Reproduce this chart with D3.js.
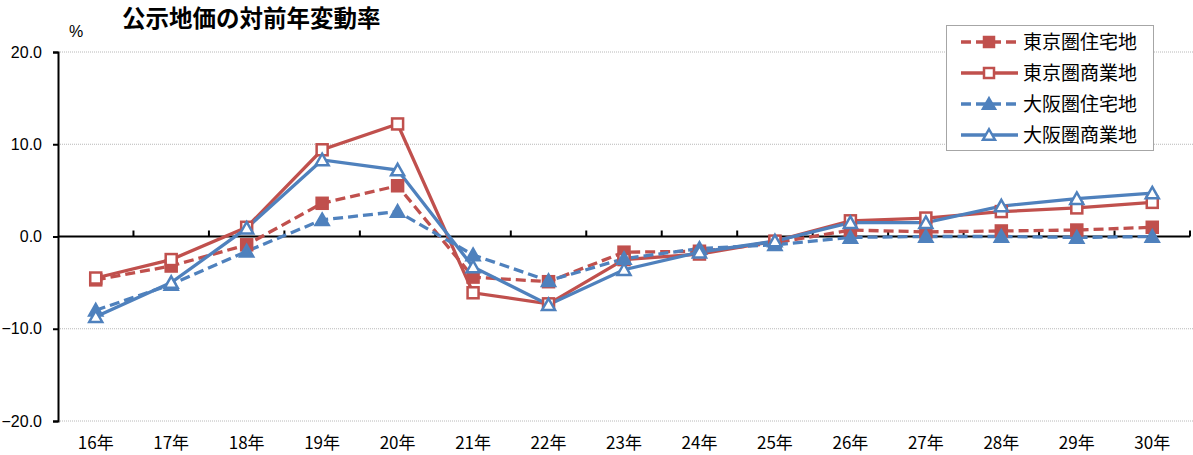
<!DOCTYPE html>
<html>
<head>
<meta charset="utf-8">
<script src="https://cdn.jsdelivr.net/npm/d3@7"></script>
<style>
  body { margin: 0; background: #fff; }
  svg { font-family: "Noto Sans CJK JP", "Noto Sans", sans-serif; }
</style>
</head>
<body>
<svg width="1193" height="455"></svg>
<script>
// categories and series (%)
var years = ["16年","17年","18年","19年","20年","21年","22年","23年","24年","25年","26年","27年","28年","29年","30年"];
var tokyoRes  = [-4.7, -3.2, -0.9, 3.6, 5.5, -4.4, -4.9, -1.7, -1.6, -0.7, 0.7, 0.5, 0.6, 0.7, 1.0];
var tokyoCom  = [-4.5, -2.5, 1.0, 9.4, 12.2, -6.1, -7.3, -2.5, -1.9, -0.5, 1.7, 2.0, 2.7, 3.1, 3.7];
var osakaRes  = [-8.0, -5.2, -1.6, 1.8, 2.7, -2.0, -4.8, -2.4, -1.3, -0.9, -0.1, 0.0, 0.0, -0.1, 0.0];
var osakaCom  = [-8.7, -5.0, 0.9, 8.3, 7.2, -3.3, -7.4, -3.6, -1.7, -0.5, 1.5, 1.5, 3.3, 4.1, 4.7];
var yTicks = [20, 10, 0, -10, -20];

var red = "#C0504D", blue = "#4F81BD";
var series = [
  { name: "東京圏住宅地", values: tokyoRes, color: red,  dash: "10,5", marker: "fsquare" },
  { name: "東京圏商業地", values: tokyoCom, color: red,  dash: null,  marker: "osquare" },
  { name: "大阪圏住宅地", values: osakaRes, color: blue, dash: "10,5", marker: "ftri" },
  { name: "大阪圏商業地", values: osakaCom, color: blue, dash: null,  marker: "otri" }
];

var svg = d3.select("svg");

var x = d3.scaleBand().domain(years).range([58, 1190]);
var y = d3.scaleLinear().domain([-20, 20]).range([421, 52]);

// gridlines
svg.append("g")
  .selectAll("line")
  .data(yTicks.filter(function(d) { return d !== 0; }))
  .enter().append("line")
    .attr("x1", 58).attr("x2", 1193)
    .attr("y1", function(d) { return y(d); })
    .attr("y2", function(d) { return y(d); })
    .attr("stroke", "#b8b8b8")
    .attr("stroke-dasharray", "1,1");

// y axis
var yAxis = svg.append("g")
  .attr("transform", "translate(58,0)")
  .call(d3.axisLeft(y).tickValues(yTicks).tickSize(5).tickPadding(11)
    .tickFormat(function(d) { return d3.format(".1f")(d); }));
yAxis.select(".domain").attr("stroke", "#000").attr("stroke-width", 2);
yAxis.selectAll(".tick line").attr("stroke", "#000").attr("stroke-width", 2);
yAxis.selectAll(".tick text").attr("font-size", 16).attr("fill", "#000")
  .attr("font-family", "Arial, 'Liberation Sans', sans-serif");

// zero line with category ticks
svg.append("line")
  .attr("x1", 58).attr("x2", 1190)
  .attr("y1", y(0)).attr("y2", y(0))
  .attr("stroke", "#000").attr("stroke-width", 2);
svg.append("g")
  .selectAll("line")
  .data(years)
  .enter().append("line")
    .attr("x1", function(d) { return x(d) + x.step(); })
    .attr("x2", function(d) { return x(d) + x.step(); })
    .attr("y1", y(0)).attr("y2", y(0) - 6)
    .attr("stroke", "#000").attr("stroke-width", 2);

// x labels
svg.append("g")
  .selectAll("text")
  .data(years)
  .enter().append("text")
    .attr("x", function(d) { return x(d) + x.bandwidth() / 2; })
    .attr("y", 449)
    .attr("text-anchor", "middle")
    .attr("font-size", 17)
    .text(function(d) { return d; });

// lines
var line = d3.line()
  .x(function(d, i) { return x(years[i]) + x.bandwidth() / 2; })
  .y(function(d) { return y(d); });

function drawMarker(g, type, color, cx, cy, size) {
  if (type === "fsquare" || type === "osquare") {
    g.append("rect")
      .attr("x", cx - size / 2).attr("y", cy - size / 2)
      .attr("width", size).attr("height", size)
      .attr("fill", type === "fsquare" ? color : "#fff")
      .attr("stroke", color).attr("stroke-width", 2.5);
  } else {
    var h = size * 0.95;
    g.append("path")
      .attr("d", "M" + cx + "," + (cy - h / 2 - 1) + "L" + (cx + size / 2 + 1) + "," + (cy + h / 2) +
        "L" + (cx - size / 2 - 1) + "," + (cy + h / 2) + "Z")
      .attr("fill", type === "ftri" ? color : "#fff")
      .attr("stroke", color).attr("stroke-width", 2.5)
      .attr("stroke-linejoin", "miter");
  }
}

series.forEach(function(s) {
  svg.append("path")
    .datum(s.values)
    .attr("d", line)
    .attr("fill", "none")
    .attr("stroke", s.color)
    .attr("stroke-width", 3.3)
    .attr("stroke-dasharray", s.dash);
});
series.forEach(function(s) {
  var g = svg.append("g");
  s.values.forEach(function(v, i) {
    drawMarker(g, s.marker, s.color, x(years[i]) + x.bandwidth() / 2, y(v), 11);
  });
});

// title and unit
svg.append("text")
  .attr("x", 122).attr("y", 27)
  .attr("font-size", 23.5).attr("font-weight", "bold")
  .text("公示地価の対前年変動率");
svg.append("text")
  .attr("x", 69).attr("y", 37)
  .attr("font-size", 16)
  .attr("font-family", "Arial, 'Liberation Sans', sans-serif")
  .text("%");

// legend
var legend = svg.append("g");
legend.append("rect")
  .attr("x", 946.5).attr("y", 25.5).attr("width", 207).attr("height", 125)
  .attr("fill", "#fff").attr("stroke", "#a6a6a6");
series.forEach(function(s, i) {
  var ly = 42 + i * 31;
  legend.append("line")
    .attr("x1", 961).attr("x2", 1018).attr("y1", ly).attr("y2", ly)
    .attr("stroke", s.color).attr("stroke-width", 3.3)
    .attr("stroke-dasharray", s.dash);
  drawMarker(legend, s.marker, s.color, 989, ly, 10);
  legend.append("text")
    .attr("x", 1023).attr("y", ly + 7)
    .attr("font-size", 19)
    .text(s.name);
});
</script>
</body>
</html>
